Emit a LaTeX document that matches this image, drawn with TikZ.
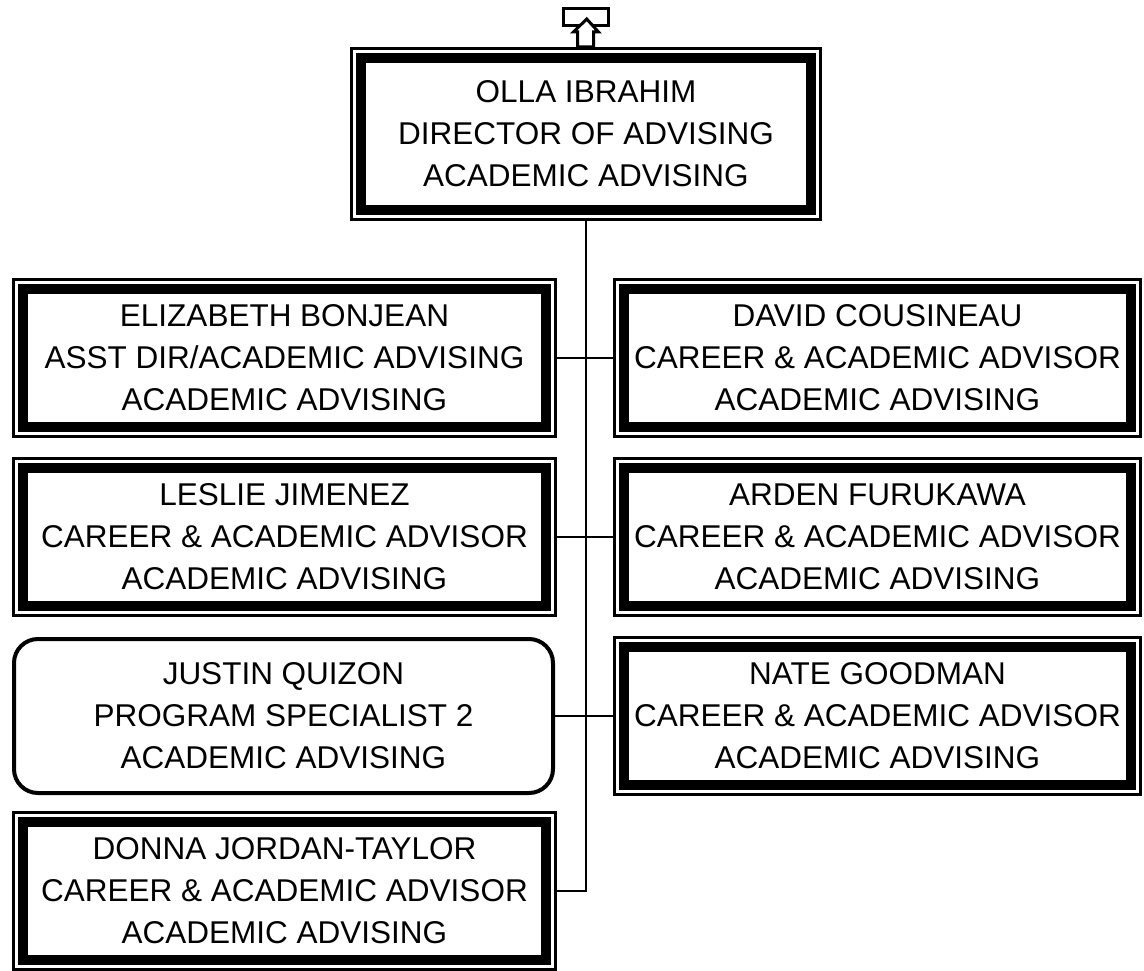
\documentclass[tikz,border=0pt]{standalone}
\usepackage{fontspec}
\setmainfont{Liberation Sans}
\usepackage{tikz}
\usetikzlibrary{positioning}

\begin{document}
\begin{tikzpicture}[x=1pt,y=-1pt,
  every node/.style={font=\fontsize{31.5}{42}\selectfont, align=center, inner sep=0pt},
  dbox/.style={draw, line width=10pt, outer sep=11pt, minimum height=138pt},
  rbox/.style={draw, line width=4pt, rounded corners=24pt, minimum height=154pt},
  frame/.style={line width=3pt},
  conn/.style={line width=1.6pt}]
\useasboundingbox (0,0) rectangle (1144,971);
% boxes
\node[dbox, minimum width=450pt, minimum height=152pt] (olla) at (586,134)
  {OLLA IBRAHIM\\DIRECTOR OF ADVISING\\ACADEMIC ADVISING};
\node[dbox, minimum width=523pt] (l1) at (284.5,358)
  {ELIZABETH BONJEAN\\ASST DIR/ACADEMIC ADVISING\\ACADEMIC ADVISING};
\node[dbox, minimum width=523pt] (l2) at (284.5,537)
  {LESLIE JIMENEZ\\CAREER \& ACADEMIC ADVISOR\\ACADEMIC ADVISING};
\node[rbox, minimum width=539pt] (l3) at (283.5,716)
  {JUSTIN QUIZON\\PROGRAM SPECIALIST 2\\ACADEMIC ADVISING};
\node[dbox, minimum width=523pt] (l4) at (284.5,891)
  {DONNA JORDAN-TAYLOR\\CAREER \& ACADEMIC ADVISOR\\ACADEMIC ADVISING};
\node[dbox, minimum width=507pt] (r1) at (877.5,358)
  {DAVID COUSINEAU\\CAREER \& ACADEMIC ADVISOR\\ACADEMIC ADVISING};
\node[dbox, minimum width=507pt] (r2) at (877.5,537)
  {ARDEN FURUKAWA\\CAREER \& ACADEMIC ADVISOR\\ACADEMIC ADVISING};
\node[dbox, minimum width=507pt] (r3) at (877.5,716)
  {NATE GOODMAN\\CAREER \& ACADEMIC ADVISOR\\ACADEMIC ADVISING};
% thin outer frames
\foreach \n in {olla,l1,l2,l4,r1,r2,r3}
  \draw[frame] ([shift={(1.5,1.5)}]\n.north west) rectangle ([shift={(-1.5,-1.5)}]\n.south east);
% connectors
\draw[conn] (olla.south) |- (l4.east);
\draw[conn] (l1.east) -- (r1.west);
\draw[conn] (l2.east) -- (r2.west);
\draw[conn] (l3.east) -- (r3.west);
% reports-up marker
\node[draw, line width=3pt, minimum width=45pt, minimum height=17pt] (up) at (586,17) {};
\draw[line width=3pt, fill=white] (586.7,19) -- (598.5,32) -- (593.5,32) -- (593.5,47)
  -- (577.5,47) -- (577.5,32) -- (573.5,32) -- cycle;
\end{tikzpicture}
\end{document}
